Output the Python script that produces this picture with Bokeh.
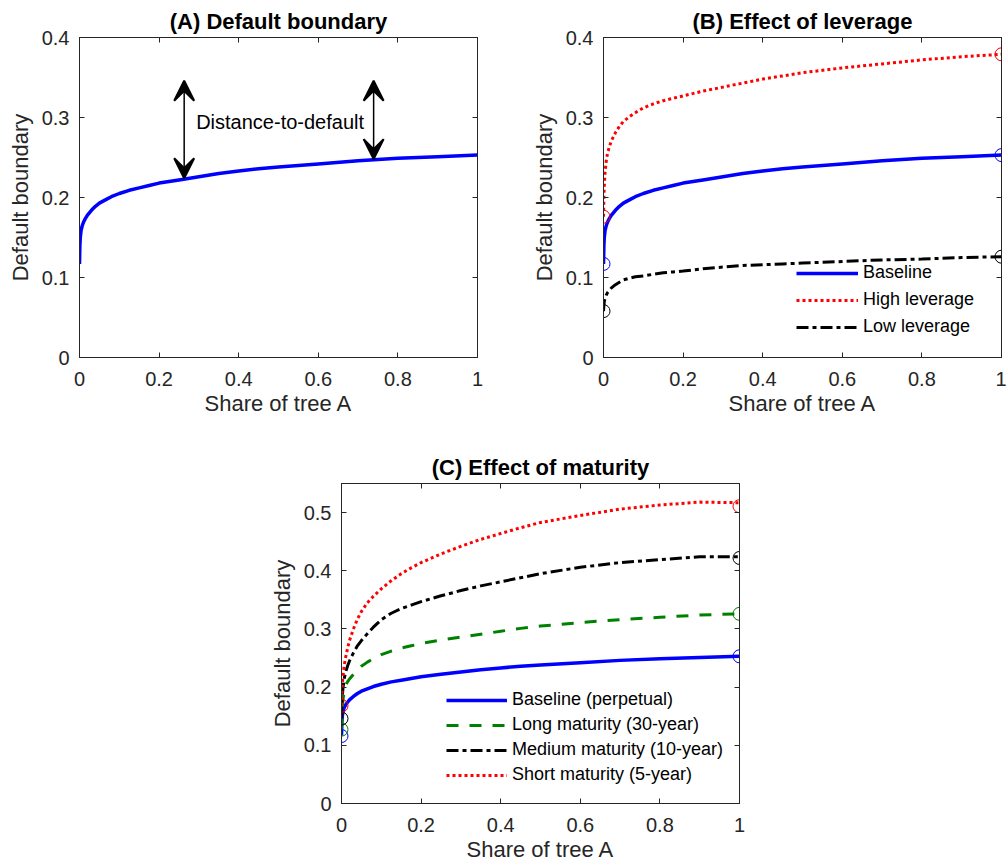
from bokeh.plotting import figure
from bokeh.models import (ColumnDataSource, FixedTicker, LinearAxis, Arrow, VeeHead,
                          Label, Legend, LegendItem, Range1d, Spacer)
from bokeh.layouts import column, row
from bokeh.embed import file_html
from bokeh.resources import INLINE

# ---------------- data ----------------
share = [0, 0.001, 0.002, 0.004, 0.007, 0.01, 0.015, 0.02, 0.03, 0.04, 0.05, 0.065,
         0.08, 0.1, 0.125, 0.15, 0.175, 0.2, 0.25, 0.3, 0.35, 0.4, 0.45, 0.5, 0.6,
         0.7, 0.8, 0.9, 1.0]
baseline = [0.117, 0.140, 0.150, 0.159, 0.165, 0.169, 0.174, 0.178, 0.184, 0.189,
            0.193, 0.197, 0.201, 0.205, 0.209, 0.212, 0.215, 0.218, 0.222, 0.226,
            0.230, 0.233, 0.236, 0.238, 0.242, 0.246, 0.249, 0.251, 0.253]
high_lev = [0.176, 0.200, 0.215, 0.232, 0.246, 0.255, 0.264, 0.271, 0.281, 0.289,
            0.295, 0.301, 0.306, 0.312, 0.317, 0.321, 0.324, 0.327, 0.333, 0.338,
            0.343, 0.348, 0.352, 0.356, 0.362, 0.367, 0.372, 0.376, 0.379]
low_lev = [0.058, 0.065, 0.070, 0.074, 0.078, 0.081, 0.084, 0.087, 0.091, 0.094,
           0.097, 0.099, 0.101, 0.102, 0.104, 0.106, 0.107, 0.108, 0.111, 0.113,
           0.115, 0.116, 0.117, 0.118, 0.120, 0.122, 0.123, 0.125, 0.126]
long_mat = [0.127, 0.150, 0.163, 0.180, 0.195, 0.203, 0.209, 0.214, 0.222, 0.230,
            0.236, 0.243, 0.249, 0.256, 0.262, 0.267, 0.271, 0.275, 0.281, 0.286,
            0.291, 0.296, 0.301, 0.305, 0.311, 0.316, 0.320, 0.324, 0.326]
medium_mat = [0.146, 0.170, 0.185, 0.200, 0.215, 0.225, 0.236, 0.245, 0.259, 0.271,
              0.280, 0.292, 0.303, 0.316, 0.327, 0.335, 0.341, 0.347, 0.357, 0.366,
              0.374, 0.381, 0.388, 0.395, 0.406, 0.414, 0.419, 0.424, 0.424]
short_mat = [0.168, 0.190, 0.205, 0.220, 0.238, 0.250, 0.266, 0.280, 0.300, 0.317,
             0.330, 0.345, 0.356, 0.369, 0.383, 0.395, 0.405, 0.414, 0.429, 0.442,
             0.454, 0.464, 0.474, 0.483, 0.495, 0.506, 0.513, 0.518, 0.517]

end_x = [0, 1]
ends_baseline = [0.117, 0.253]
ends_high = [0.176, 0.379]
ends_low = [0.058, 0.126]
ends_long = [0.127, 0.326]
ends_medium = [0.146, 0.422]
ends_short = [0.168, 0.511]
ends_base_c = [0.116, 0.253]

arrow_x = [0.263, 0.739]
arrow_top = [0.346, 0.346]
arrow_bottom = [0.224, 0.248]
annot_text = "Distance-to-default"
annot_pos = (0.504, 0.294)

x_ticks = [0, 0.2, 0.4, 0.6, 0.8, 1]
y_ticks_ab = [0, 0.1, 0.2, 0.3, 0.4]
y_ticks_c = [0, 0.1, 0.2, 0.3, 0.4, 0.5]

FONT = "Liberation Sans"
AX = "#262626"
BLUE, RED, BLACK, GREEN = "#0000FF", "#FF0000", "#000000", "#008000"


def fmt(v):
    return ("%g" % v)


def make_fig(title, ymax, yticks, ml, mr, mt, mb):
    p = figure(frame_width=398, frame_height=320, x_range=Range1d(0, 1),
               y_range=Range1d(0, ymax), output_backend="svg", toolbar_location=None,
               min_border_left=ml, min_border_right=mr, min_border_top=mt,
               min_border_bottom=mb, background_fill_color="white",
               border_fill_color="white")
    p.title.text = title
    p.title.text_font = FONT
    p.title.text_font_size = "22px"
    p.title.text_font_style = "bold"
    p.title.text_color = "black"
    p.title.align = "center"
    p.title.standoff = 8
    p.xgrid.visible = False
    p.ygrid.visible = False
    p.outline_line_color = AX
    p.outline_line_width = 1
    for ax, ticks in ((p.xaxis[0], x_ticks), (p.yaxis[0], yticks)):
        ax.ticker = FixedTicker(ticks=ticks)
        ax.major_label_overrides = {t: fmt(t) for t in ticks}
        ax.minor_tick_line_color = None
        ax.major_tick_in = 5
        ax.major_tick_out = 0
        ax.axis_line_color = AX
        ax.major_tick_line_color = AX
        ax.major_label_text_font = FONT
        ax.major_label_text_font_size = "20px"
        ax.major_label_text_color = AX
        ax.axis_label_text_font = FONT
        ax.axis_label_text_font_size = "22px"
        ax.axis_label_text_font_style = "normal"
        ax.axis_label_text_color = AX
    p.xaxis[0].axis_label = "Share of tree A"
    p.yaxis[0].axis_label = "Default boundary"
    p.xaxis[0].major_label_standoff = 14
    p.xaxis[0].axis_label_standoff = 2
    p.yaxis[0].major_label_standoff = 10
    p.yaxis[0].axis_label_standoff = 6
    # mirrored tick marks on top and right (minor ticks only, so no labels)
    for side, ticks in (("above", x_ticks), ("right", yticks)):
        a = LinearAxis(ticker=FixedTicker(ticks=[], minor_ticks=ticks),
                       major_label_standoff=0, major_tick_line_color=None,
                       minor_tick_in=5, minor_tick_out=0, minor_tick_line_color=AX,
                       axis_line_color=AX)
        p.add_layout(a, side)
    return p


# ---------------- Panel A ----------------
pA = make_fig("(A) Default boundary", 0.4, y_ticks_ab, 79, 23, 37, 63)
pA.line(share, baseline, line_color=BLUE, line_width=3.5, line_join="round")
arrow_src = ColumnDataSource(dict(x=arrow_x, y0=arrow_bottom, y1=arrow_top))
pA.add_layout(Arrow(source=arrow_src, x_start="x", y_start="y0", x_end="x", y_end="y1",
                    line_width=1.5, line_color="black",
                    start=VeeHead(size=20, line_width=2, line_color="black", fill_color="black"),
                    end=VeeHead(size=20, line_width=2, line_color="black", fill_color="black")))
pA.add_layout(Label(x=annot_pos[0], y=annot_pos[1], text=annot_text, text_font=FONT,
                    text_font_size="20px", text_align="center", text_baseline="middle",
                    text_color="black"))

# ---------------- Panel B ----------------
pB = make_fig("(B) Effect of leverage", 0.4, y_ticks_ab, 103, 5, 37, 63)
rb1 = pB.line(share, baseline, line_color=BLUE, line_width=3.5, line_join="round")
rb2 = pB.line(share, high_lev, line_color=RED, line_width=3, line_dash="3 3")
rb3 = pB.line(share, low_lev, line_color=BLACK, line_width=3, line_dash="12 4 4 4")
for ys, c in ((ends_baseline, BLUE), (ends_high, RED), (ends_low, BLACK)):
    pB.scatter(end_x, ys, marker="circle", size=13, fill_color=None, line_color=c, line_width=1)
legB = Legend(items=[LegendItem(label="Baseline", renderers=[rb1]),
                     LegendItem(label="High leverage", renderers=[rb2]),
                     LegendItem(label="Low leverage", renderers=[rb3])],
              location=(193, 20), padding=0, margin=0, spacing=6, glyph_width=62,
              glyph_height=20, label_height=20, label_standoff=5,
              label_text_font=FONT, label_text_font_size="18px", label_text_color="black",
              border_line_alpha=0, background_fill_alpha=0)
pB.add_layout(legB)

# ---------------- Panel C ----------------
pC = make_fig("(C) Effect of maturity", 0.55, y_ticks_c, 79, 23, 63, 62)
rc1 = pC.line(share, baseline, line_color=BLUE, line_width=3.5, line_join="round")
rc2 = pC.line(share, long_mat, line_color=GREEN, line_width=3, line_dash="12 11")
rc3 = pC.line(share, medium_mat, line_color=BLACK, line_width=3, line_dash="12 4 4 4")
rc4 = pC.line(share, short_mat, line_color=RED, line_width=3, line_dash="3 3")
for ys, c in ((ends_base_c, BLUE), (ends_long, GREEN), (ends_medium, BLACK), (ends_short, RED)):
    pC.scatter(end_x, ys, marker="circle", size=13, fill_color=None, line_color=c, line_width=1)
legC = Legend(items=[LegendItem(label="Baseline (perpetual)", renderers=[rc1]),
                     LegendItem(label="Long maturity (30-year)", renderers=[rc2]),
                     LegendItem(label="Medium maturity (10-year)", renderers=[rc3]),
                     LegendItem(label="Short maturity (5-year)", renderers=[rc4])],
              location=(105, 18), padding=0, margin=0, spacing=4, glyph_width=61,
              glyph_height=20, label_height=20, label_standoff=5,
              label_text_font=FONT, label_text_font_size="18px", label_text_color="black",
              border_line_alpha=0, background_fill_alpha=0)
pC.add_layout(legC)

layout = column(row(pA, pB), row(Spacer(width=262, height=445), pC))

open("out.html", "w").write(file_html(layout, INLINE))
